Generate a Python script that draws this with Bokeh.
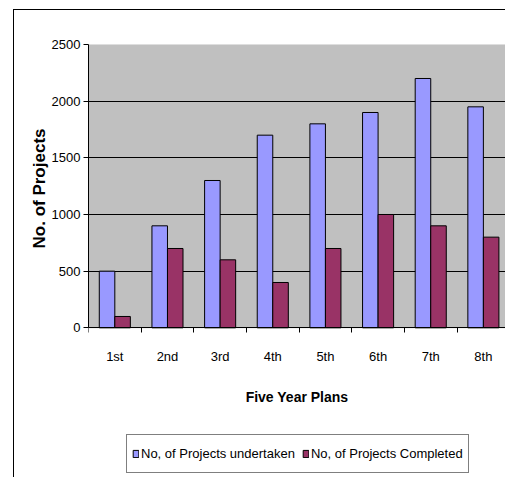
from bokeh.plotting import figure
from bokeh.models import (ColumnDataSource, Range1d, FixedTicker, Legend, LegendItem,
                          BoxAnnotation, Title)
from bokeh.transform import dodge
from bokeh.embed import file_html
from bokeh.resources import INLINE

plans = ["1st", "2nd", "3rd", "4th", "5th", "6th", "7th", "8th"]
undertaken = [500, 900, 1300, 1700, 1800, 1900, 2200, 1950]
completed = [100, 700, 600, 400, 700, 1000, 900, 800]
y_ticks = [0, 500, 1000, 1500, 2000, 2500]
series_names = ["No, of Projects undertaken", "No, of Projects Completed"]
y_title = "No. of Projects"
x_title = "Five Year Plans"

FONT = "'Liberation Sans', Arial, sans-serif"

pos = [i + 1 for i in range(len(plans))]
bounds = [x - 0.5 for x in pos] + [pos[-1] + 0.5]
source = ColumnDataSource(dict(x=pos, u=undertaken, c=completed))

y_top = y_ticks[-1]
p = figure(width=491, height=467, frame_height=432, frame_width=417,
           x_range=Range1d(0.5, 8.42), y_range=Range1d(-1312, y_top),
           output_backend="svg", toolbar_location=None,
           min_border_left=74, min_border_top=34, min_border_bottom=1, min_border_right=0)
p.styles = {"margin-left": "13px", "margin-top": "9px",
            "border-left": "1px solid black", "border-top": "1px solid black"}

p.background_fill_color = "white"
p.border_fill_color = "white"
p.outline_line_color = None

plot_area = BoxAnnotation(bottom=0, top=y_top, fill_color="#C0C0C0", fill_alpha=1,
                          line_color="#808080", line_width=1, level="image")
p.add_layout(plot_area)

bw = 0.295
r1 = p.vbar(x=dodge("x", -bw / 2, range=p.x_range), top="u", width=bw, source=source,
            fill_color="#9999FF", line_color="black", line_width=1)
r2 = p.vbar(x=dodge("x", bw / 2, range=p.x_range), top="c", width=bw, source=source,
            fill_color="#993366", line_color="black", line_width=1)

# x axis
xa = p.xaxis[0]
xa.fixed_location = 0
xa.ticker = FixedTicker(ticks=pos, minor_ticks=bounds)
xa.major_label_overrides = {k: v for k, v in zip(pos, plans)}
xa.major_tick_line_color = None
xa.major_tick_out = 0
xa.major_tick_in = 0
xa.minor_tick_out = 5
xa.minor_tick_in = 0
xa.minor_tick_line_color = "black"
xa.axis_line_color = "black"
xa.major_label_standoff = 16
xa.major_label_text_font = FONT
xa.major_label_text_font_size = "13px"
xa.major_label_text_color = "black"
xa.axis_label = x_title
xa.axis_label_text_font = FONT
xa.axis_label_text_font_size = "14px"
xa.axis_label_text_font_style = "bold"
xa.axis_label_text_color = "black"
xa.axis_label_standoff = 22

# y axis
ya = p.yaxis[0]
ya.bounds = (0, y_top)
ya.ticker = FixedTicker(ticks=y_ticks)
ya.major_tick_out = 5
ya.major_tick_in = 0
ya.minor_tick_line_color = None
ya.axis_line_color = "black"
ya.major_label_standoff = 3
ya.major_label_text_font = FONT
ya.major_label_text_font_size = "13px"
ya.major_label_text_color = "black"

ytitle = Title(text=y_title, align="right", offset=84, standoff=0,
               text_font=FONT, text_font_size="17px", text_font_style="bold",
               text_color="black")
p.add_layout(ytitle, "left")

p.xgrid.grid_line_color = None
p.ygrid.ticker = FixedTicker(ticks=y_ticks[:-1])
p.ygrid.grid_line_color = "black"
p.ygrid.grid_line_width = 1

legend = Legend(items=[LegendItem(label=series_names[0], renderers=[r1]),
                       LegendItem(label=series_names[1], renderers=[r2])],
                orientation="horizontal", location=(38, 3))
legend.label_text_font = FONT
legend.label_text_font_size = "13px"
legend.label_text_color = "black"
legend.glyph_width = 7
legend.glyph_height = 9
legend.label_standoff = 2
legend.spacing = 7
legend.padding = 5
legend.label_height = 27
legend.margin = 0
legend.border_line_color = "black"
legend.border_line_width = 1
legend.background_fill_color = "white"
legend.background_fill_alpha = 1
p.add_layout(legend)

open("out.html", "w").write(file_html(p, INLINE))
